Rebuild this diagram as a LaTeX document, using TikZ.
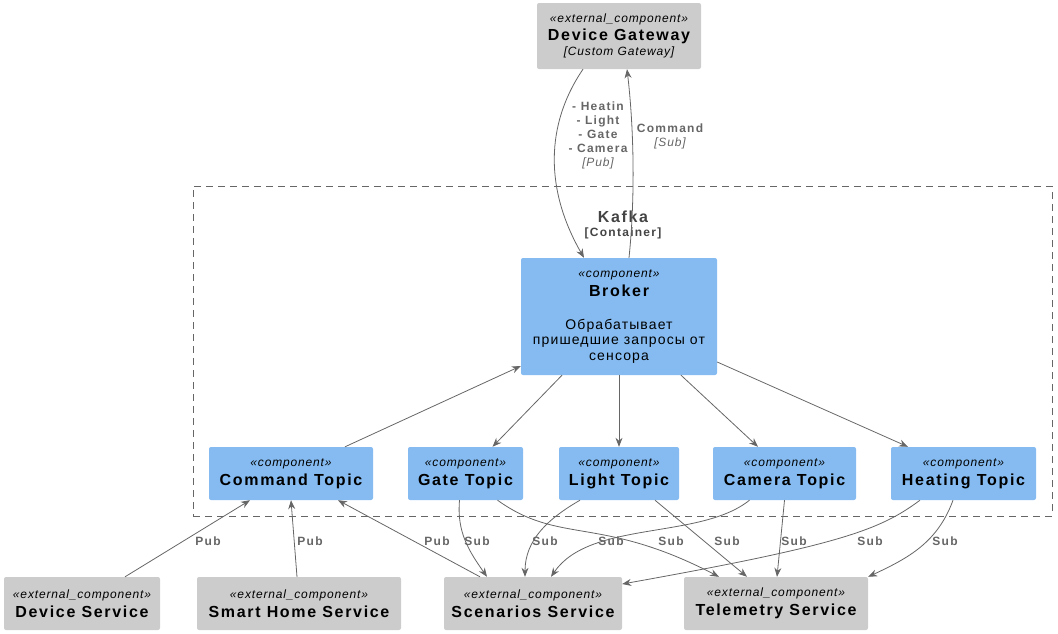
\documentclass[tikz,border=0pt]{standalone}
\usepackage{fontspec}
\setmainfont{Liberation Sans}[LetterSpace=8,ItalicFeatures={LetterSpace=7},BoldFeatures={LetterSpace=10.5}]
\usetikzlibrary{arrows.meta}
\definecolor{compblue}{HTML}{85BBF0}
\definecolor{extgray}{HTML}{CCCCCC}
\definecolor{linegray}{HTML}{666666}
\definecolor{titlegray}{HTML}{444444}
\newcommand\stfont{\fontsize{12}{14}\selectfont\itshape}
\newcommand\nmfont{\fontsize{16}{17}\selectfont\bfseries}
\newcommand\dsfont{\fontsize{14}{16}\selectfont}
\newcommand\lbfont{\fontsize{12}{14}\selectfont\bfseries}

\begin{document}
\begin{tikzpicture}[x=1pt,y=-1pt,
    comp/.style={fill=compblue,rounded corners=2pt,align=center,inner sep=0pt,minimum height=53},
    ext/.style={fill=extgray,rounded corners=2pt,align=center,inner sep=0pt,minimum height=53},
    rel/.style={draw=linegray,line width=.8pt,-{Stealth[length=9pt,width=7pt]}},
    lbl/.style={text=linegray,font=\lbfont,align=center}]
    \useasboundingbox (0,0) rectangle (1058,633);
    \node[draw=linegray,line width=.8pt,dash pattern=on 7pt off 5pt,minimum width=859,minimum height=330] (kafka) at (622.5,351) {};
    \node[text=titlegray,align=center] (kafkat) at (623,225) {\fontsize{16}{18}\selectfont\bfseries Kafka\\[2pt]\lbfont [Container]};
    \node[ext,minimum width=164,minimum height=66] (dg) at (619,36) {\stfont «external\_component»\\[3pt]\nmfont Device Gateway\\[2pt]\stfont [Custom Gateway]};
    \node[comp,minimum width=196,minimum height=117] (broker) at (619,316.5) {\stfont «component»\\[4pt]\nmfont Broker\\[21pt]\dsfont Обрабатывает\\[3.5pt]\dsfont пришедшие запросы от\\[3.5pt]\dsfont сенсора};
    \node[comp,minimum width=164] (cmd) at (291,473.5) {\stfont «component»\\[4pt]\nmfont Command Topic};
    \node[comp,minimum width=115] (gate) at (465.5,473.5) {\stfont «component»\\[4pt]\nmfont Gate Topic};
    \node[comp,minimum width=120] (light) at (619,473.5) {\stfont «component»\\[4pt]\nmfont Light Topic};
    \node[comp,minimum width=143] (cam) at (784.5,473.5) {\stfont «component»\\[4pt]\nmfont Camera Topic};
    \node[comp,minimum width=145] (heat) at (963.5,473.5) {\stfont «component»\\[4pt]\nmfont Heating Topic};
    \node[ext,minimum width=156] (dsvc) at (82,603.5) {\stfont «external\_component»\\[4pt]\nmfont Device Service};
    \node[ext,minimum width=204] (shs) at (299,603.5) {\stfont «external\_component»\\[4pt]\nmfont Smart Home Service};
    \node[ext,minimum width=178] (scen) at (533,603.5) {\stfont «external\_component»\\[4pt]\nmfont Scenarios Service};
    \node[ext,minimum width=184] (tele) at (776,603.5) {\stfont «external\_component»\\[4pt]\nmfont Telemetry Service};
    % gateway <-> broker
    \draw[rel] ([xshift=-36pt]dg.south) .. controls (545,125) and (545,190) .. ([xshift=-35pt]broker.north);
    \draw[rel] ([xshift=10pt]broker.north) .. controls (636,190) and (633,120) .. ([xshift=8pt]dg.south);
    \node[lbl] (publ) at (598,135) {- Heatin\\- Light\\- Gate\\- Camera\\\mdseries\itshape [Pub]};
    \node[lbl] (subl) at (670,136) {Command\\\mdseries\itshape [Sub]};
    % broker <-> topics
    \draw[rel] ([xshift=54pt]cmd.north) -- ([yshift=-49.5pt]broker.west);
    \foreach \t/\a/\b in {gate/-57/27,light/0/0,cam/62/-26.5}
      \draw[rel] ([xshift=\a pt]broker.south) -- ([xshift=\b pt]\t.north);
    \draw[rel] ([yshift=-45.5pt]broker.east) -- ([xshift=-55.5pt]heat.north);
    % services -> command topic
    \draw[rel] ([xshift=43pt]dsvc.north) -- ([xshift=-41pt]cmd.south);
    \draw[rel] ([xshift=-2pt]shs.north) -- (cmd.south);
    \draw[rel] ([xshift=-53pt]scen.north) -- ([xshift=47pt]cmd.south);
    % topics -> services
    \draw[rel] ([xshift=-6pt]gate.south) to[out=-95,in=125] ([xshift=-46pt]scen.north);
    \draw[rel] ([xshift=32pt]gate.south) .. controls (560,545) and (600,515) .. ([xshift=-57pt]tele.north);
    \draw[rel] ([xshift=-39pt]light.south) to[out=-150,in=90] ([xshift=-8pt]scen.north);
    \draw[rel] ([xshift=36pt]light.south) -- ([xshift=-29pt]tele.north);
    \draw[rel] ([xshift=-35pt]cam.south) .. controls (700,540) and (590,520) .. ([xshift=18pt]scen.north);
    \draw[rel] (cam.south) -- ([xshift=1pt]tele.north);
    \draw[rel] ([xshift=-43.5pt]heat.south) .. controls (880,530) and (840,545) .. ([yshift=19.5pt]scen.east);
    \draw[rel] ([xshift=-10.5pt]heat.south) to[out=-110,in=25] (tele.north east);
    \foreach \x/\t in {208/Pub,310/Pub,437/Pub,477/Sub,545/Sub,611/Sub,671/Sub,727/Sub,794/Sub,870/Sub,945/Sub}
      \node[lbl] (l\x) at (\x,541) {\t};
\end{tikzpicture}
\end{document}
